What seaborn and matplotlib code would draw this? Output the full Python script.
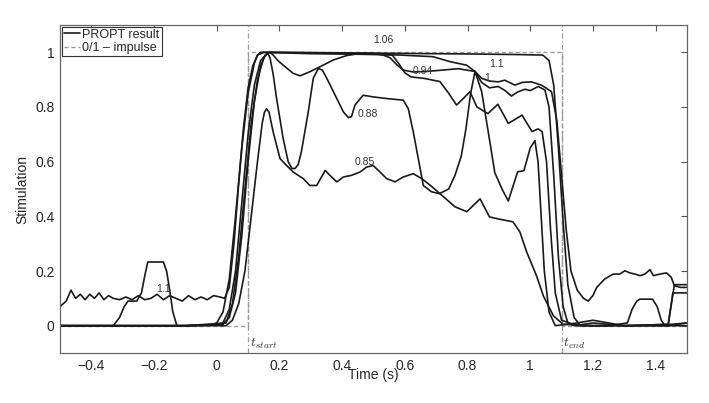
import matplotlib
matplotlib.use("Agg")
import matplotlib.pyplot as plt
from matplotlib.lines import Line2D
import seaborn as sns

# --- data ------------------------------------------------------------------
# 1.06
x_106 = [-0.5, -0.3, -0.1, -0.02, 0.0, 0.02, 0.04, 0.06, 0.08, 0.10, 0.12, 0.13, 0.14, 0.2, 0.4,
         0.6, 0.8, 0.95, 1.04, 1.06, 1.075, 1.09, 1.105, 1.12, 1.14, 1.16, 1.3, 1.45, 1.5]
y_106 = [0.0, 0.0, 0.0, 0.002, 0.01, 0.05, 0.17, 0.4, 0.65, 0.85, 0.96, 0.99, 1.0, 1.0, 0.998,
         0.996, 0.994, 0.992, 0.99, 0.97, 0.88, 0.65, 0.38, 0.15, 0.03, 0.0, 0.0, 0.005, 0.01]

# 1.1
x_110 = [-0.5, -0.48, -0.465, -0.45, -0.435, -0.42, -0.405, -0.39, -0.375, -0.36, -0.345, -0.33,
         -0.31, -0.29, -0.27, -0.25, -0.23, -0.21, -0.19, -0.17, -0.15, -0.13, -0.11, -0.09, -0.07,
         -0.05, -0.03, -0.01, 0.01, 0.025, 0.04, 0.055, 0.07, 0.085, 0.10, 0.115, 0.13, 0.15, 0.3,
         0.45, 0.585, 0.69, 0.744, 0.797, 0.824, 0.845, 0.87, 0.898, 0.919, 0.951, 0.975, 1.004,
         1.036, 1.068, 1.085, 1.1, 1.115, 1.13, 1.15, 1.17, 1.185, 1.2, 1.212, 1.238, 1.265, 1.286,
         1.302, 1.318, 1.334, 1.35, 1.366, 1.382, 1.393, 1.414, 1.435, 1.45, 1.46, 1.48, 1.5]
y_110 = [0.07, 0.09, 0.13, 0.10, 0.115, 0.095, 0.115, 0.10, 0.12, 0.095, 0.11, 0.10,
         0.095, 0.105, 0.095, 0.11, 0.095, 0.10, 0.115, 0.095, 0.11, 0.10, 0.09, 0.11, 0.095,
         0.105, 0.095, 0.11, 0.105, 0.10, 0.14, 0.3, 0.52, 0.72, 0.87, 0.95, 0.99, 1.0, 0.995,
         0.993, 0.99, 0.984, 0.966, 0.953, 0.93, 0.905, 0.895, 0.892, 0.898, 0.88, 0.89, 0.892,
         0.88, 0.856, 0.75, 0.55, 0.35, 0.2, 0.13, 0.1, 0.09, 0.11, 0.14, 0.171, 0.189, 0.189,
         0.201, 0.193, 0.189, 0.183, 0.189, 0.205, 0.183, 0.189, 0.193, 0.177, 0.146, 0.14, 0.14]

# 0.94
x_094 = [-0.5, -0.1, 0.0, 0.02, 0.04, 0.06, 0.08, 0.10, 0.12, 0.14, 0.16, 0.17, 0.18, 0.195,
         0.212, 0.244, 0.266, 0.297, 0.329, 0.372, 0.414, 0.457, 0.499, 0.531, 0.553, 0.574, 0.595,
         0.627, 0.67, 0.72, 0.77, 0.824, 0.845, 0.87, 0.898, 0.92, 0.94, 0.96, 0.983, 1.0, 1.026,
         1.047, 1.06, 1.075, 1.09, 1.105, 1.12, 1.14, 1.2, 1.3, 1.44, 1.46, 1.5]
y_094 = [0.0, 0.0, 0.003, 0.01, 0.06, 0.2, 0.45, 0.7, 0.88, 0.97, 0.995, 1.0, 0.99, 0.97,
         0.953, 0.923, 0.914, 0.929, 0.947, 0.972, 0.988, 0.996, 0.996, 0.99, 0.98, 0.955, 0.935,
         0.928, 0.93, 0.935, 0.94, 0.93, 0.89, 0.87, 0.875, 0.86, 0.84, 0.855, 0.865, 0.86, 0.875,
         0.862, 0.8, 0.55, 0.25, 0.07, 0.01, 0.0, 0.01, 0.0, 0.005, 0.15, 0.15]

# 1
x_100 = [-0.5, -0.33, -0.31, -0.295, -0.283, -0.255, -0.24, -0.23, -0.22, -0.17, -0.16, -0.15,
         -0.14, -0.127, -0.1, 0.02, 0.04, 0.06, 0.08, 0.10, 0.12, 0.14, 0.155, 0.165, 0.25, 0.4,
         0.5, 0.56, 0.58, 0.60, 0.62, 0.66, 0.712, 0.74, 0.765, 0.79, 0.808, 0.83, 0.865, 0.897,
         0.93, 0.974, 1.006, 1.025, 1.038, 1.052, 1.065, 1.08, 1.1, 1.15, 1.25, 1.31, 1.325, 1.34,
         1.35, 1.39, 1.405, 1.418, 1.43, 1.5]
y_100 = [0.0, 0.0, 0.03, 0.07, 0.09, 0.09, 0.12, 0.18, 0.233, 0.233, 0.2, 0.13,
         0.05, 0.0, 0.0, 0.005, 0.03, 0.12, 0.33, 0.6, 0.82, 0.95, 0.99, 1.0, 0.999, 0.997,
         0.995, 0.99, 0.96, 0.925, 0.91, 0.905, 0.893, 0.85, 0.807, 0.835, 0.856, 0.8, 0.776,
         0.81, 0.74, 0.77, 0.71, 0.72, 0.71, 0.6, 0.35, 0.12, 0.02, 0.0, 0.0, 0.01, 0.06, 0.09,
         0.097, 0.097, 0.07, 0.02, 0.0, 0.0]

# 0.88
x_088 = [-0.5, -0.1, 0.03, 0.05, 0.07, 0.09, 0.11, 0.13, 0.15, 0.162, 0.17, 0.18, 0.191, 0.212,
         0.228, 0.24, 0.25, 0.26, 0.27, 0.292, 0.308, 0.324, 0.337, 0.351, 0.383, 0.404, 0.42, 0.43,
         0.441, 0.467, 0.499, 0.542, 0.595, 0.611, 0.627, 0.643, 0.659, 0.685, 0.71, 0.74, 0.76,
         0.78, 0.795, 0.81, 0.824, 0.845, 0.866, 0.887, 0.91, 0.93, 0.96, 0.98, 1.0, 1.015, 1.025,
         1.035, 1.045, 1.06, 1.08, 1.15, 1.2, 1.25, 1.3, 1.44, 1.455, 1.5]
y_088 = [0.0, 0.0, 0.01, 0.08, 0.25, 0.5, 0.74, 0.9, 0.98, 0.998, 0.98, 0.92, 0.831, 0.684,
         0.6, 0.575, 0.575, 0.59, 0.636, 0.782, 0.905, 0.941, 0.935, 0.905, 0.831, 0.782, 0.761,
         0.765, 0.807, 0.843, 0.837, 0.831, 0.825, 0.794, 0.709, 0.611, 0.513, 0.49, 0.483, 0.5,
         0.55, 0.62, 0.72, 0.85, 0.93, 0.857, 0.71, 0.56, 0.5, 0.456, 0.563, 0.567, 0.65, 0.677,
         0.6, 0.4, 0.2, 0.05, 0.0, 0.01, 0.02, 0.01, 0.0, 0.0, 0.12, 0.12]

# 0.85
x_085 = [-0.5, -0.1, 0.03, 0.05, 0.07, 0.09, 0.11, 0.13, 0.145, 0.152, 0.159, 0.167, 0.18, 0.202,
         0.223, 0.244, 0.276, 0.297, 0.319, 0.346, 0.361, 0.383, 0.404, 0.43, 0.457, 0.478, 0.499,
         0.521, 0.542, 0.569, 0.595, 0.627, 0.654, 0.685, 0.712, 0.76, 0.798, 0.84, 0.87, 0.90,
         0.945, 0.967, 0.989, 1.02, 1.042, 1.074, 1.105, 1.2, 1.44, 1.5]
y_085 = [0.0, 0.0, 0.0, 0.02, 0.08, 0.2, 0.4, 0.6, 0.74, 0.78, 0.794, 0.78, 0.709, 0.611,
         0.586, 0.562, 0.538, 0.513, 0.513, 0.568, 0.55, 0.526, 0.544, 0.55, 0.562, 0.58, 0.586,
         0.562, 0.538, 0.526, 0.544, 0.556, 0.538, 0.51, 0.483, 0.435, 0.417, 0.464, 0.398, 0.39,
         0.38, 0.343, 0.269, 0.183, 0.109, 0.036, 0.005, 0.0, 0.0, 0.01]

# 0/1 impulse
x_imp = [-0.5, 0.1, 0.1, 1.1, 1.1, 1.5]
y_imp = [0, 0, 1, 1, 0, 0]
t_start, t_end = 0.1, 1.1

curves = [(x_106, y_106), (x_110, y_110), (x_094, y_094),
          (x_100, y_100), (x_088, y_088), (x_085, y_085)]

labels = ["1.06", "0.94", "1.1", "1", "0.88", "0.85", "1.1"]
label_x = [0.53, 0.658, 0.894, 0.862, 0.482, 0.473, -0.17]
label_y = [1.044, 0.93, 0.956, 0.905, 0.776, 0.60, 0.134]

# --- plot -------------------------------------------------------------------
sns.set_style("white")
plt.rcParams["font.family"] = ["Liberation Sans", "DejaVu Sans"]
plt.rcParams["mathtext.fontset"] = "cm"

fig = plt.figure(figsize=(7.09, 4.03), dpi=100)
ax = fig.add_axes([0.0846, 0.124, 0.8843, 0.814])

gray = "#9a9a9a"
sns.lineplot(x=x_imp, y=y_imp, ax=ax, sort=False, estimator=None,
             color=gray, linestyle=(0, (3, 2)), linewidth=1.0)
for xv in (t_start, t_end):
    ax.axvline(xv, color=gray, linestyle=(0, (4, 2, 1, 2)), linewidth=0.9)

for xs, ys in curves:
    sns.lineplot(x=xs, y=ys, ax=ax, sort=False, estimator=None,
                 color="#1a1a1a", linewidth=1.2)

for t, lx, ly in zip(labels, label_x, label_y):
    ax.text(lx, ly, t, fontsize=7.5, color="#333333", ha="center", va="center")

ax.text(t_start + 0.005, -0.065, r"$t_{start}$", fontsize=10, color="#333333", ha="left", va="center")
ax.text(t_end + 0.005, -0.065, r"$t_{end}$", fontsize=10, color="#333333", ha="left", va="center")

ax.set_xlim(-0.5, 1.5)
ax.set_ylim(-0.1, 1.1)
ax.set_xticks([-0.4, -0.2, 0, 0.2, 0.4, 0.6, 0.8, 1, 1.2, 1.4])
ax.set_xticklabels(["\u22120.4", "\u22120.2", "0", "0.2", "0.4", "0.6", "0.8", "1", "1.2", "1.4"])
ax.set_yticks([0, 0.2, 0.4, 0.6, 0.8, 1])
ax.set_yticklabels(["0", "0.2", "0.4", "0.6", "0.8", "1"])
ax.tick_params(direction="in", top=True, right=True, length=4, width=0.8,
               color="#555555", labelsize=10, pad=4)
for sp in ax.spines.values():
    sp.set_color("#666666")
    sp.set_linewidth(0.9)

ax.set_xlabel("Time (s)", fontsize=10, labelpad=-3)
ax.set_ylabel("Stimulation", fontsize=10, labelpad=4)

handles = [Line2D([0], [0], color="#1a1a1a", linewidth=1.2),
           Line2D([0], [0], color=gray, linestyle=(0, (3, 2)), linewidth=1.0)]
leg = ax.legend(handles, ["PROPT result", "0/1 \u2013 impulse"], loc="upper left",
                fontsize=9, handlelength=1.3, handletextpad=0.2, borderpad=0.15,
                borderaxespad=0.15, labelspacing=0.1, fancybox=False, framealpha=1)
leg.get_frame().set_edgecolor("#333333")
leg.get_frame().set_linewidth(0.8)

fig.savefig("out.png", dpi=100)
